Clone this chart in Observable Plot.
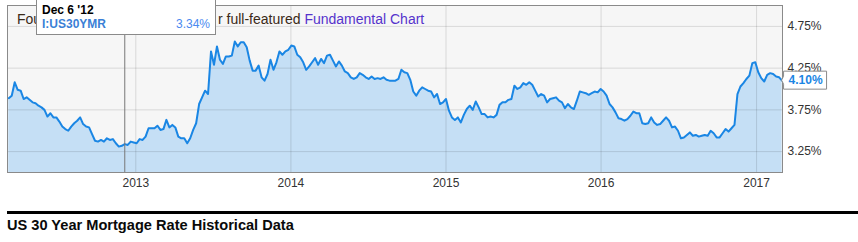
<!DOCTYPE html>
<html>
<head>
<meta charset="utf-8">
<script src="https://cdn.jsdelivr.net/npm/d3@7"></script>
<script src="https://cdn.jsdelivr.net/npm/@observablehq/plot@0.6"></script>
<style>
  html, body { margin: 0; padding: 0; background: #fff; }
  body { width: 858px; height: 242px; overflow: hidden; position: relative; font-family: "Liberation Sans", Arial, sans-serif; }
  #chart { position: absolute; left: 0; top: 0; }
  .note { position: absolute; top: 12px; font-size: 14px; line-height: 14px; white-space: nowrap; color: #3b2a18; }
  .note a { color: #5533cc; text-decoration: none; }
  #tip { position: absolute; left: 36px; top: -10px; width: 180px; height: 45px; box-sizing: border-box; background: #fff; border: 1px solid #8a8a8a; }
  #tip span { position: absolute; font-size: 12px; line-height: 12px; white-space: nowrap; }
  #rule { position: absolute; left: 7px; top: 211px; width: 851px; height: 3px; background: #000; }
  #title { position: absolute; left: 7px; top: 218px; font-size: 14.6px; line-height: 14px; font-weight: bold; color: #0a0a0a; white-space: nowrap; }
</style>
</head>
<body>
<div id="chart"></div>
<div class="note" style="left:17px;width:19px;overflow:hidden;">Four</div>
<div class="note" style="left:218px;">r full-featured <a>Fundamental Chart</a></div>
<div id="tip"></div>
<div id="rule"></div>
<div id="title">US 30 Year Mortgage Rate Historical Data</div>
<script>
// ---- data (weekly US 30 year mortgage rate, %) ----
const seriesName = "I:US30YMR";
const firstWeek = "2012-03-08";
const rates = [
  3.89, 3.92, 4.08, 3.99, 3.98, 3.88, 3.90, 3.87, 3.84, 3.83,
  3.80, 3.78, 3.75, 3.67, 3.71, 3.66, 3.66, 3.61, 3.55, 3.52,
  3.50, 3.55, 3.59, 3.62, 3.66, 3.58, 3.55, 3.54, 3.46, 3.38,
  3.37, 3.39, 3.37, 3.41, 3.39, 3.40, 3.35, 3.31, 3.32, 3.34,
  3.33, 3.37, 3.36, 3.35, 3.40, 3.39, 3.43, 3.53, 3.53, 3.53,
  3.56, 3.51, 3.52, 3.63, 3.54, 3.57, 3.54, 3.43, 3.41, 3.41,
  3.35, 3.41, 3.51, 3.59, 3.82, 3.90, 3.98, 3.94, 4.45, 4.29,
  4.51, 4.35, 4.30, 4.39, 4.39, 4.40, 4.57, 4.51, 4.56, 4.56,
  4.50, 4.34, 4.22, 4.22, 4.28, 4.14, 4.10, 4.18, 4.35, 4.23,
  4.32, 4.45, 4.41, 4.45, 4.47, 4.52, 4.51, 4.41, 4.38, 4.32,
  4.23, 4.27, 4.32, 4.37, 4.29, 4.36, 4.31, 4.40, 4.41, 4.34,
  4.27, 4.33, 4.28, 4.21, 4.19, 4.14, 4.12, 4.14, 4.19, 4.17,
  4.14, 4.12, 4.15, 4.12, 4.13, 4.12, 4.14, 4.11, 4.10, 4.10,
  4.10, 4.12, 4.23, 4.20, 4.19, 4.11, 3.97, 3.92, 3.98, 4.02,
  4.00, 3.98, 3.97, 3.90, 3.94, 3.82, 3.84, 3.88, 3.74, 3.66,
  3.63, 3.66, 3.60, 3.69, 3.76, 3.80, 3.75, 3.85, 3.78, 3.70,
  3.70, 3.66, 3.67, 3.66, 3.69, 3.81, 3.84, 3.84, 3.87, 3.88,
  4.04, 4.00, 4.02, 4.07, 4.05, 4.08, 4.05, 3.98, 3.91, 3.94,
  3.92, 3.84, 3.88, 3.89, 3.90, 3.86, 3.84, 3.77, 3.82, 3.78,
  3.76, 3.86, 3.97, 3.96, 3.95, 3.93, 3.95, 3.97, 3.96, 4.00,
  3.97, 3.92, 3.82, 3.78, 3.72, 3.65, 3.64, 3.62, 3.64, 3.68,
  3.73, 3.71, 3.71, 3.59, 3.58, 3.59, 3.66, 3.60, 3.57, 3.58,
  3.62, 3.66, 3.62, 3.54, 3.55, 3.50, 3.41, 3.42, 3.45, 3.48,
  3.44, 3.45, 3.43, 3.44, 3.45, 3.44, 3.50, 3.47, 3.42, 3.42,
  3.47, 3.52, 3.49, 3.53, 3.57, 3.94, 4.03, 4.07, 4.12, 4.16,
  4.31, 4.32, 4.20, 4.13, 4.09, 4.17, 4.19, 4.18, 4.15, 4.14,
  4.10
];
const yTicks = [3.25, 3.75, 4.25, 4.75];
const xTickYears = [2013, 2014, 2015, 2016, 2017];
const tooltipDate = "2012-12-06";
const tooltipLabel = "Dec 6 '12";
const tooltipValue = 3.34;
const xStart = "2012-03-05", xEnd = "2017-03-03";

// ---- build table ----
const start = new Date(firstWeek + "T00:00:00");
const data = rates.map((v, i) => ({date: d3.timeDay.offset(start, 7 * i), value: v}));
const last = data[data.length - 1];
const yearDates = xTickYears.map(y => new Date(y, 0, 1));

const lineBlue = "#1a86e4";
const fillBlue = "#c5dff5";

const valueBox = (index, scales) => {
  const px = scales.x(last.date), py = scales.y(last.value);
  const g = document.createElementNS("http://www.w3.org/2000/svg", "g");
  const p = document.createElementNS("http://www.w3.org/2000/svg", "path");
  const x0 = px + 2, x1 = px + 45, h = 9;
  p.setAttribute("d", `M${px},${py}L${x0},${py - 4}L${x0},${py - h}L${x1},${py - h}L${x1},${py + h}L${x0},${py + h}L${x0},${py + 4}Z`);
  p.setAttribute("fill", "#fff");
  p.setAttribute("stroke", "#8a8a8a");
  g.appendChild(p);
  const t = document.createElementNS("http://www.w3.org/2000/svg", "text");
  t.setAttribute("x", (x0 + x1) / 2 + 0.5);
  t.setAttribute("y", py);
  t.setAttribute("dy", "0.36em");
  t.setAttribute("text-anchor", "middle");
  t.setAttribute("fill", lineBlue);
  t.setAttribute("font-weight", "bold");
  t.setAttribute("font-size", "12px");
  t.textContent = last.value.toFixed(2) + "%";
  g.appendChild(t);
  return g;
};

const chart = Plot.plot({
  width: 858,
  height: 200,
  marginLeft: 7,
  marginRight: 76,
  marginTop: 5,
  marginBottom: 28,
  style: {fontFamily: "'Liberation Sans', Arial, sans-serif", fontSize: "12px", color: "#333", background: "transparent", overflow: "visible"},
  x: {type: "time", domain: [new Date(xStart + "T00:00:00"), new Date(xEnd + "T00:00:00")]},
  y: {domain: [3, 5]},
  marks: [
    Plot.frame({fill: "#f6f6f6", stroke: "none"}),
    Plot.areaY(data, {x: "date", y: "value", fill: fillBlue, clip: true}),
    Plot.ruleY(yTicks, {stroke: "#000", strokeOpacity: 0.12}),
    Plot.ruleX(yearDates, {stroke: "#000", strokeOpacity: 0.12}),
    Plot.lineY(data, {x: "date", y: "value", stroke: lineBlue, strokeWidth: 2, clip: true}),
    Plot.ruleX([new Date(tooltipDate + "T00:00:00")], {stroke: "#777", strokeWidth: 1}),
    Plot.frame({stroke: "#8a8a8a"}),
    Plot.axisY(yTicks, {anchor: "right", tickSize: 0, tickPadding: 5, tickFormat: d => d.toFixed(2) + "%", label: null, fill: "#333"}),
    Plot.axisX(yearDates, {anchor: "bottom", tickSize: 0, tickPadding: 6, tickFormat: d3.timeFormat("%Y"), label: null, fill: "#333"}),
    valueBox
  ]
});
document.getElementById("chart").appendChild(chart);

// tooltip
const tip = document.getElementById("tip");
tip.innerHTML =
  `<span style="left:5px;top:12.8px;font-weight:bold;color:#000">${tooltipLabel}</span>` +
  `<span style="left:5px;top:26.5px;font-weight:bold;color:#3a7fd6">${seriesName}</span>` +
  `<span style="right:5px;top:26.5px;color:#4a8af0">${tooltipValue.toFixed(2)}%</span>`;
</script>
</body>
</html>
